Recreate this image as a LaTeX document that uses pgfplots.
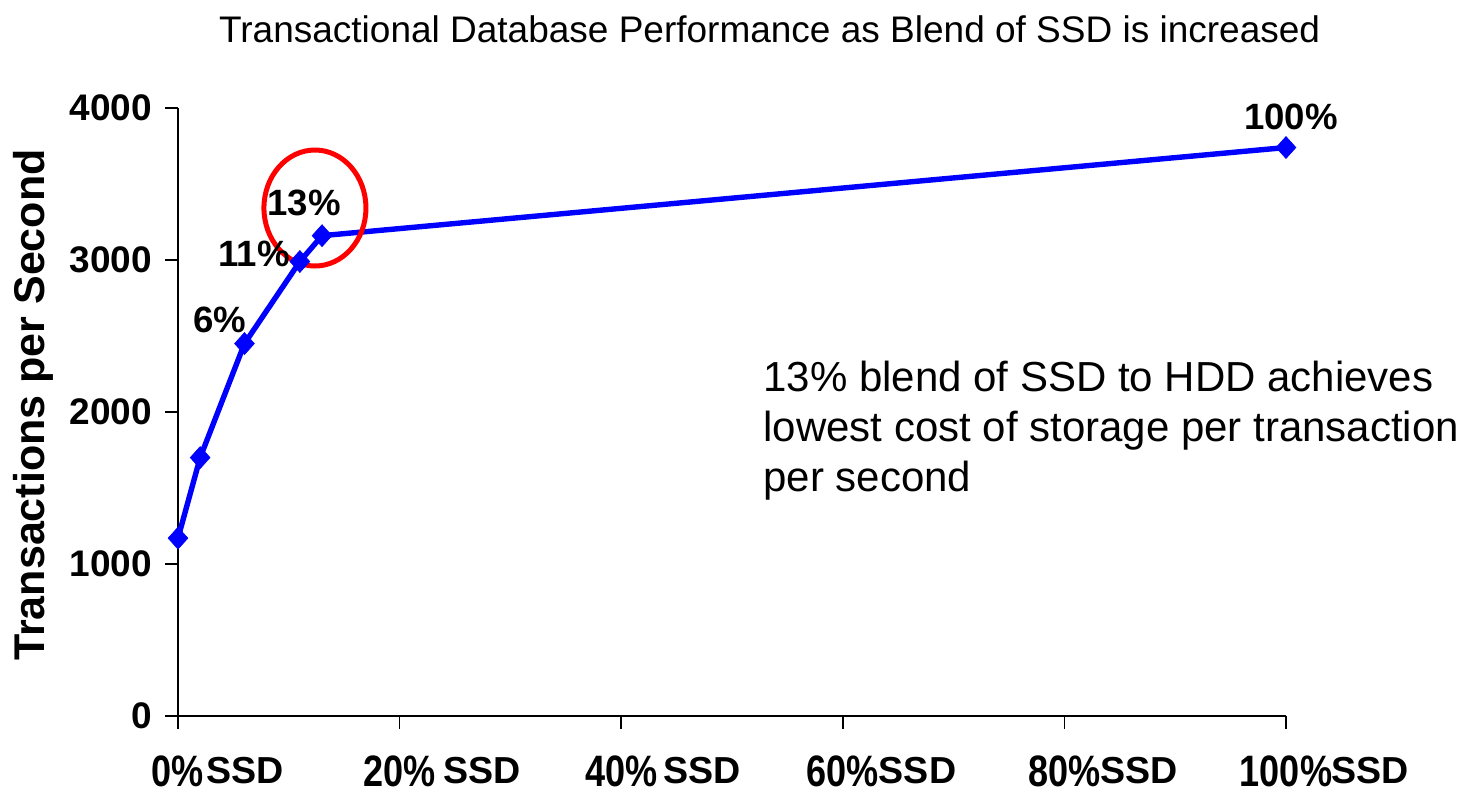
\documentclass[border=0pt]{standalone}
\usepackage{pgfplots}
\pgfplotsset{compat=1.18}
\usepackage{fontspec}
\setmainfont{Liberation Sans}
\newcommand{\xl}[2]{\scalebox{0.82}[1]{\fontsize{22}{22}\selectfont\bfseries #1\%}\rlap{\kern#2\raisebox{1.5pt}{\fontsize{18.8}{18.8}\selectfont\bfseries SSD}}}
\begin{document}
\begin{tikzpicture}
\path[use as bounding box] (-89pt,-40pt) rectangle (648pt,358pt);
\begin{axis}[
  at={(0pt,0pt)}, anchor=south west,
  scale only axis, width=554pt, height=304pt,
  xmin=0, xmax=100, ymin=0, ymax=4000,
  axis x line=bottom, axis y line=left,
  axis line style={-, black, line width=0.75pt},
  tick style={black, line width=0.75pt},
  tick align=outside, major tick length=6.5pt,
  xtick={0,20,40,60,80,100},
  xticklabels={\xl{0}{1pt},\xl{20}{4pt},\xl{40}{3pt},\xl{60}{0pt},\xl{80}{0pt},\xl{100}{-0.5pt}},
  ytick={0,1000,2000,3000,4000},
  /pgf/number format/assume math mode=true,
  /pgf/number format/1000 sep={},
  scaled y ticks=false,
  yticklabel style={font=\fontsize{18.5}{18.5}\selectfont\bfseries, xshift=-3pt},
  xticklabel style={inner sep=0pt, yshift=-13pt},
  clip=false,
]
\addplot[color={rgb,255:red,0;green,0;blue,255}, line width=2.7pt, mark=diamond*, mark size=5.5pt,
  mark options={solid, fill={rgb,255:red,0;green,0;blue,255}, line width=0.3pt, xscale=1.2}]
  coordinates {(0,1170) (2,1700) (6,2450) (11,2990) (13,3160) (100,3740)};
\draw[color={rgb,255:red,255;green,0;blue,0}, line width=2.5pt] (axis cs:12.36,3342) ellipse [x radius=25.5pt, y radius=29pt];
\node[font=\fontsize{18.3}{18.3}\selectfont\bfseries] at (axis cs:100.45,3941) {100\%};
\node[font=\fontsize{18.3}{18.3}\selectfont\bfseries] at (axis cs:11.37,3375) {13\%};
\node[font=\fontsize{18.3}{18.3}\selectfont\bfseries] at (axis cs:6.86,3039) {11\%};
\node[font=\fontsize{18.3}{18.3}\selectfont\bfseries] at (axis cs:3.79,2605) {6\%};
\node[font=\fontsize{21.5}{21.5}\selectfont\bfseries, rotate=90] at (axis cs:-13.09,2046) {Transactions per Second};
\node[font=\fontsize{21}{21}\selectfont, anchor=base west, inner sep=0pt] at (axis cs:52.8,2132) {13\% blend of SSD to HDD achieves};
\node[font=\fontsize{21}{21}\selectfont, anchor=base west, inner sep=0pt] at (axis cs:52.8,1803) {lowest cost of storage per transaction};
\node[font=\fontsize{21}{21}\selectfont, anchor=base west, inner sep=0pt] at (axis cs:52.8,1474) {per second};
\node[font=\fontsize{18.5}{18.5}\selectfont, anchor=base] at (axis cs:53.4,4434) {Transactional Database Performance as Blend of SSD is increased};
\end{axis}
\end{tikzpicture}
\end{document}
